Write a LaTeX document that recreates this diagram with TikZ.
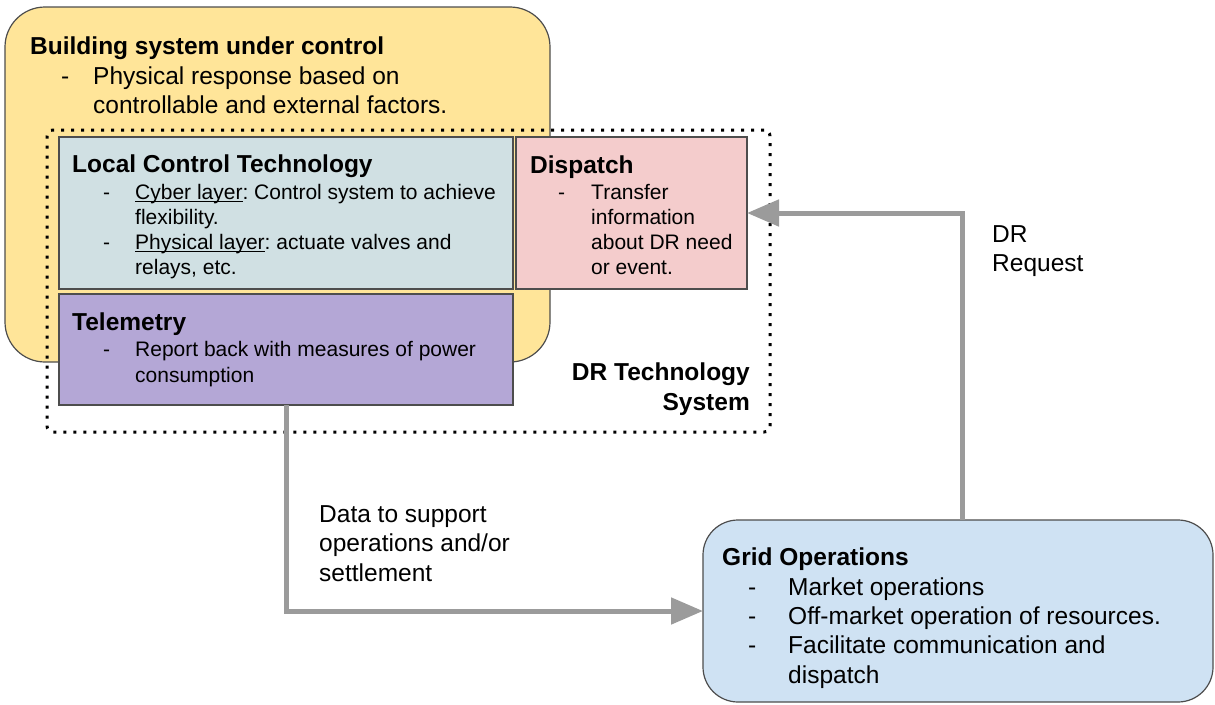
\documentclass[tikz,border=0pt]{standalone}
\usepackage{fontspec}
\setmainfont{Liberation Sans}
\usepackage{tikz}
\usetikzlibrary{arrows.meta}

\definecolor{bldyellow}{HTML}{FFE599}
\definecolor{lctblue}{HTML}{D0E0E3}
\definecolor{disppink}{HTML}{F4CCCC}
\definecolor{telpurple}{HTML}{B4A7D6}
\definecolor{gridblue}{HTML}{CFE2F3}
\definecolor{flowgray}{HTML}{9B9B9B}
\definecolor{edgegray}{HTML}{4D4D4D}

\newcommand{\bigtxt}{\fontsize{24.5}{29.3}\selectfont}
\newcommand{\smalltxt}{\fontsize{21}{25}\selectfont}
\newcommand{\itm}{\hspace*{31pt}\makebox[32pt][l]{-}}
\newcommand{\nxt}{\hspace*{63pt}}
\newcommand{\ulword}[1]{\underline{\smash{#1}}}
\frenchspacing

\begin{document}
\begin{tikzpicture}[x=1pt, y=-1pt,
        box/.style={draw=edgegray, line width=1.2pt, inner sep=0pt, outer sep=0pt},
        txt/.style={anchor=north west, inner sep=0pt, align=left},
        flow/.style={draw=flowgray, line width=5pt, -{Triangle[length=32pt,width=26pt]}}]
    \useasboundingbox (0,0) rectangle (1215,704);
    % outer building box and DR system frame
    \node[box, fill=bldyellow, rounded corners=40pt, minimum width=545pt, minimum height=355pt] (bld) at (277.5,184.5) {};
    \node[draw=black, line width=3pt, dash pattern=on 3pt off 7pt, rounded corners=6pt, inner sep=0pt,
        minimum width=723pt, minimum height=302pt] (drsys) at (408.5,281) {};
    % inner boxes
    \node[box, fill=lctblue, minimum width=454pt, minimum height=152pt] (lct) at (286,213) {};
    \node[box, fill=disppink, minimum width=231pt, minimum height=152pt] (disp) at (631.5,213) {};
    \node[box, fill=telpurple, minimum width=454pt, minimum height=111pt] (tel) at (286,349.5) {};
    \node[box, fill=gridblue, rounded corners=35pt, minimum width=510pt, minimum height=182pt] (grid) at (958,611) {};

    % texts
    \node[txt, font=\bigtxt] (bldtxt) at ([shift={(25,30)}]bld.north west)
        {\textbf{Building system under control}\\
         \itm Physical response based on\\
         \nxt controllable and external factors.};
    \node[txt, font=\smalltxt] (lcttxt) at ([shift={(13,18)}]lct.north west)
        {{\bigtxt\bfseries Local Control Technology}\\[2pt]
         \itm \ulword{Cyber layer}: Control system to achieve\\
         \nxt flexibility.\\
         \itm \ulword{Physical layer}: actuate valves and\\
         \nxt relays, etc.};
    \node[txt, font=\smalltxt] (disptxt) at ([shift={(14,19)}]disp.north west)
        {{\bigtxt\bfseries Dispatch}\\[1pt]
         \hspace*{28pt}\makebox[33pt][l]{-}Transfer\\
         \hspace*{61pt}information\\
         \hspace*{61pt}about DR need\\
         \hspace*{61pt}or event.};
    \node[txt, font=\smalltxt] (teltxt) at ([shift={(13,19)}]tel.north west)
        {{\bigtxt\bfseries Telemetry}\\[1pt]
         \itm Report back with measures of power\\[1pt]
         \nxt consumption};
    \node[txt, anchor=north east, align=right, font=\bigtxt\bfseries] (systxt) at (750,363)
        {DR Technology\\ System};
    \node[txt, font=\bigtxt] (gridtxt) at ([shift={(19,28)}]grid.north west)
        {\textbf{Grid Operations}\\
         \hspace*{26pt}\makebox[40pt][l]{-}Market operations\\
         \hspace*{26pt}\makebox[40pt][l]{-}Off-market operation of resources.\\
         \hspace*{26pt}\makebox[40pt][l]{-}Facilitate communication and\\
         \hspace*{66pt}dispatch};

    % flows
    \draw[flow] (tel.south) |- (grid.west);
    \draw[flow] ([xshift=4pt]grid.north) |- (disp.east);
    \node[txt, font=\bigtxt] (datatxt) at (319,505.5) {Data to support\\ operations and/or\\ settlement};
    \node[txt, font=\bigtxt] (reqtxt) at (992,225) {DR\\ Request};
\end{tikzpicture}
\end{document}
